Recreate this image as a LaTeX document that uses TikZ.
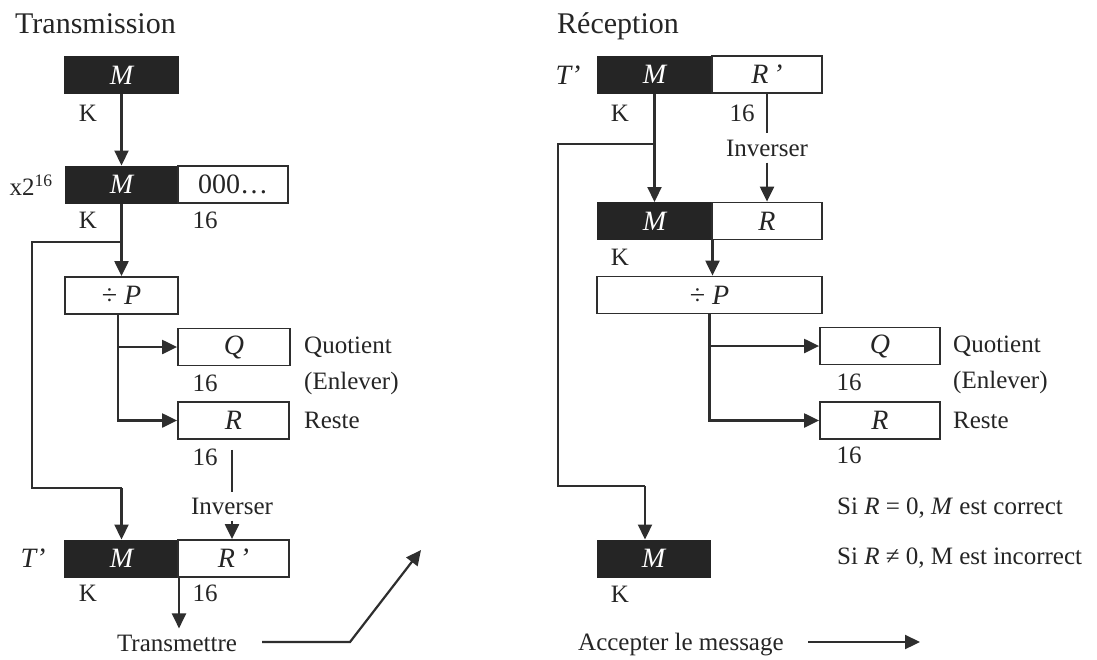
\documentclass[tikz,border=0pt]{standalone}
\usepackage{fontspec}
\setmainfont{Liberation Serif}
\usetikzlibrary{arrows.meta}
\definecolor{ink}{HTML}{252525}
\definecolor{wirec}{HTML}{2E2E2E}
\newcommand{\bodyfont}{\fontsize{25}{30}\selectfont}
\newcommand{\boxfont}{\fontsize{28}{32}\selectfont}
\newcommand{\headfont}{\fontsize{30}{36}\selectfont}
\begin{document}
\begin{tikzpicture}[x=1pt,y=-1pt,
  every node/.style={inner sep=0pt, font=\bodyfont, text=ink},
  head/.style={font=\headfont, anchor=base west},
  blk/.style={rectangle, fill=ink, draw=ink, line width=1pt, text=white,
    minimum height=37pt, font=\boxfont\itshape},
  wht/.style={rectangle, fill=white, draw=wirec, line width=1.8pt,
    minimum height=37pt, font=\boxfont\itshape},
  plainbox/.style={wht, font=\boxfont},
  lbl/.style={anchor=west},
  inv/.style={inner ysep=6pt},
  wire/.style={draw=wirec, line width=2.2pt},
  arr/.style={wire, -{Triangle[length=15pt,width=14pt]}},
  loopw/.style={draw=wirec, line width=1.5pt},
]
\fill[white] (0,0) rectangle (1097,659);
\useasboundingbox (0,0) rectangle (1097,659);

% ---------------- Transmission ----------------
\node[head] (ttl1) at (15,33) {Transmission};

\node[blk, minimum width=114pt] (m1) at (121.5,75) {M};
\node (k1) at (88,113) {K};

\node (x2) at (31,185) {x2\textsuperscript{16}};
\node[blk, minimum width=113pt] (m2) at (121.5,184.5) {M};
\node[plainbox, minimum width=110pt] (z2) at (233,184.5) {000…};
\node (k2) at (88,220) {K};
\node (n2) at (205,220) {16};

\node[plainbox, minimum width=113pt] (d1) at (121.5,295.5) {÷ \textit{P}};

\node[wht, minimum width=112pt] (q1) at (234,347) {Q};
\node[lbl] (quo1) at (304,347) {Quotient};
\node (nq1) at (205,383) {16};
\node[lbl] (enl1) at (304,383) {(Enlever)};

\node[wht, minimum width=111pt] (r1) at (233.5,420.5) {R};
\node[lbl] (res1) at (304,420.5) {Reste};
\node (nr1) at (205,457) {16};

\node[inv] (i1) at (232,506) {Inverser};

\node (tp1) at (33,558) {\boxfont\textit{T’}};
\node[blk, minimum width=114pt] (m3) at (121.5,558.5) {M};
\node[wht, minimum width=111pt] (z3) at (233.5,558.5) {R\,'};
\node (k3) at (88,593) {K};
\node (n3) at (205,593) {16};

\node[anchor=base] (tx) at (177,651) {Transmettre};

% connectors
\draw[arr] (m1) -- (m2);
\draw[arr] (m2) -- (d1);
\coordinate (a1) at (121.5,242);
\coordinate (la) at (32,242);
\coordinate (lb) at (32,488);
\coordinate (a2) at (121.5,488);
\draw[loopw] (a1) -- (la) -- (lb) -- (a2);
\draw[arr] (a2) -- (a2 |- m3.north);

\coordinate (b1) at ([xshift=-3.5pt]d1.south);
\draw[arr] (b1) |- (q1);
\draw[arr] (b1) |- (r1);

\draw[wire, shorten <=10pt] (i1.north |- r1.south) -- (i1.north);
\draw[arr] (i1.south) -- (i1.south |- z3.north);

\draw[arr, shorten >=6pt] (m3.south east) -- (m3.south east |- tx.north);
\coordinate (s1) at (262,642);
\coordinate (s2) at (350,642);
\coordinate (s3) at (421,550);
\draw[arr] (s1) -- (s2) -- (s3);

% ---------------- Reception ----------------
\node[head] (ttl2) at (557,33) {Réception};

\node (tp2) at (568,75) {\boxfont\textit{T’}};
\node[blk, minimum width=115pt] (m4) at (654.5,74.5) {M};
\node[wht, minimum width=110pt] (z4) at (767,74.5) {R\,'};
\node (k4) at (620,113) {K};
\node (n4) at (742,113) {16};

\node[inv] (i2) at (767,148) {Inverser};

\node[blk, minimum width=115pt] (m5) at (654.5,221) {M};
\node[wht, minimum width=110pt] (z5) at (767,221) {R};
\node (k5) at (620,257) {K};

\node[plainbox, minimum width=225pt] (d2) at (709.5,295) {÷ \textit{P}};

\node[wht, minimum width=120pt] (q2) at (880,346) {Q};
\node[lbl] (quo2) at (953,346) {Quotient};
\node (nq2) at (849,382) {16};
\node[lbl] (enl2) at (953,382) {(Enlever)};

\node[wht, minimum width=120pt] (r2) at (880,420.5) {R};
\node[lbl] (res2) at (953,420.5) {Reste};
\node (nr2) at (849,455) {16};

\node[lbl] (ok) at (837,508) {Si \textit{R} = 0, \textit{M} est correct};
\node[lbl] (nok) at (837,558) {Si \textit{R} ≠ 0, M est incorrect};

\node[blk, minimum width=113pt] (m6) at (653.5,558.5) {M};
\node (k6) at (620,594) {K};

\node[lbl] (acc) at (578,645) {Accepter le message};

% connectors
\draw[wire] (z4) -- (i2);
\draw[arr] (i2) -- (z5);
\draw[arr] (m4) -- (m5);
\coordinate (a3) at (654.5,144);
\coordinate (lc) at (558,144);
\coordinate (ld) at (558,486);
\coordinate (a4) at (645,486);
\draw[loopw] (a3) -- (lc) -- (ld) -- (a4);
\draw[arr] (a4) -- (a4 |- m6.north);

\draw[arr] (m5.south east) -- (m5.south east |- d2.north);
\draw[arr] (d2.south) |- (q2);
\draw[arr] (d2.south) |- (r2);

\coordinate (e1) at (808,642);
\coordinate (e2) at (920,642);
\draw[arr] (e1) -- (e2);
\end{tikzpicture}
\end{document}
